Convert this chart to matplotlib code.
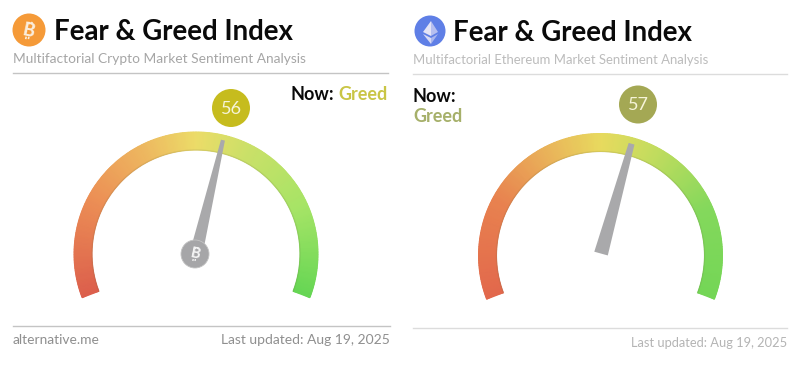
"""
Fear & Greed gauges, Bitcoin and Ethereum side by side
"""

import numpy as np
import matplotlib.pyplot as plt
from matplotlib.colors import LinearSegmentedColormap
from matplotlib.patches import Circle, Polygon

plt.rcParams["font.family"] = ["Lato", "DejaVu Sans"]

titles = ["Fear & Greed Index", "Fear & Greed Index"]
subtitles = [
    "Multifactorial Crypto Market Sentiment Analysis",
    "Multifactorial Ethereum Market Sentiment Analysis",
]
values = [56, 57]
statuses = ["Greed", "Greed"]
updated = ["Last updated: Aug 19, 2025", "Last updated: Aug 19, 2025"]
source = "alternative.me"

badge_colors = ["#c6bc1e", "#a4a854"]
status_colors = ["#c9c545", "#a6b06a"]
footer_colors = ["#8f8f8f", "#b4b4b4"]
rule_colors = ["#c4c4c4", "#dcdcdc"]
sub_colors = ["#a6a6a6", "#bcbcbc"]

gauge_stops = [
    [(0.0, "#dc5f4c"), (0.22, "#ec8f55"), (0.38, "#edb860"), (0.5, "#ecdc68"),
     (0.62, "#cbe068"), (0.8, "#a6e466"), (1.0, "#66d654")],
    [(0.0, "#e2684c"), (0.22, "#e8824f"), (0.38, "#e9b45a"), (0.5, "#e8da5e"),
     (0.62, "#c4dc5e"), (0.8, "#84d85c"), (1.0, "#74d656")],
]

# gauge geometry in image pixels
CENTERS = [(196, 254), (600.5, 255.5)]
R_OUT, R_IN = 122, 104
SWEEP = 222  # degrees, value 0 to 100


def angle_of(value):
    return 90 + SWEEP / 2 - value / 100 * SWEEP


def draw_gauge(ax, center, stops):
    cmap = LinearSegmentedColormap.from_list("gauge", stops)
    t = np.linspace(0, 1, 300)
    r = np.array([R_IN, R_OUT])
    a = np.radians(angle_of(t * 100))
    X = center[0] + np.outer(r, np.cos(a))
    Y = center[1] - np.outer(r, np.sin(a))
    ax.pcolormesh(X, Y, np.tile(t, (2, 1)), cmap=cmap, shading="gouraud", zorder=2)
    # soft rim on the inner side
    ax.plot(X[0], Y[0], color="#6a6a40", alpha=0.14, lw=1, zorder=3)


def draw_needle(ax, center, value, tip_r, base_w, tip_w, back=0):
    a = np.radians(angle_of(value))
    d = np.array([np.cos(a), -np.sin(a)])
    n = np.array([d[1], -d[0]])
    c = np.array(center) - d * back
    tip = np.array(center) + d * tip_r
    pts = [c + n * base_w / 2, tip + n * tip_w / 2, tip - n * tip_w / 2, c - n * base_w / 2]
    ax.add_patch(Polygon(pts, closed=True, fc="#a9a9ab", ec="none", zorder=5))


def draw_btc(ax, x, y, size, color, zorder):
    # no installed font has the bitcoin sign, so a B with the stem ticks
    ax.text(x, y, "B", fontsize=size, fontweight="black", color=color, ha="center",
            va="center", rotation=-12, zorder=zorder)
    h = size * 0.95
    slant = np.tan(np.radians(12))
    for off in (-0.12, 0.1):
        dx = off * h
        for sign in (-1, 1):
            y0, y1 = y + sign * h * 0.5, y + sign * h * 0.7
            ax.plot([x + dx - slant * (y0 - y), x + dx - slant * (y1 - y)], [y0, y1],
                    color=color, lw=size * 0.09, solid_capstyle="butt", zorder=zorder)


fig = plt.figure(figsize=(8, 3.75), dpi=100)
ax = fig.add_axes([0, 0, 1, 1])
ax.set_xlim(0, 800)
ax.set_ylim(375, 0)
ax.axis("off")

# header and footer, left panel at x=13, right panel at x=413
ax.text(54, 31.5, titles[0], fontsize=19.9, fontweight="bold", color="#0a0a0a", va="center")
ax.text(453, 33, titles[1], fontsize=19.9, fontweight="bold", color="#0a0a0a", va="center")
ax.text(13, 59, subtitles[0], fontsize=9.9, color=sub_colors[0], va="center")
ax.text(413, 59.5, subtitles[1], fontsize=9.46, color=sub_colors[1], va="center")
ax.plot([13, 388], [73, 73], color=rule_colors[0], lw=1)
ax.plot([413, 787], [74, 74], color=rule_colors[1], lw=1)
ax.plot([13, 390], [326, 326], color=rule_colors[0], lw=1)
ax.plot([413, 787], [328, 328], color=rule_colors[1], lw=1)
ax.text(13, 340, source, fontsize=9.9, color=footer_colors[0], va="center")
ax.text(390, 340, updated[0], fontsize=10, color=footer_colors[0], va="center", ha="right")
ax.text(787, 343, updated[1], fontsize=9.3, color=footer_colors[1], va="center", ha="right")

# status labels
ax.text(291, 95, "Now:", fontsize=13, fontweight="bold", color="#0a0a0a", va="center")
ax.text(388, 95, statuses[0], fontsize=13, fontweight="bold", color=status_colors[0],
        va="center", ha="right")
ax.text(413, 96, "Now:", fontsize=13, fontweight="bold", color="#0a0a0a", va="center")
ax.text(413, 117, statuses[1], fontsize=13, fontweight="bold", color=status_colors[1], va="center")

# value badges
for xy, rad, col, val in zip([(231, 108), (638, 104.5)], [19, 19], badge_colors, values):
    ax.add_patch(Circle(xy, rad, fc=col, ec="none", zorder=4))
    ax.text(xy[0], xy[1] + 0.5, str(val), fontsize=13, color="#f6f4d8", ha="center",
            va="center", zorder=5)

# gauges
draw_gauge(ax, CENTERS[0], gauge_stops[0])
draw_gauge(ax, CENTERS[1], gauge_stops[1])
draw_needle(ax, CENTERS[0], values[0], 117, 13, 4)
draw_needle(ax, CENTERS[1], values[1], 116, 14, 6, back=-2)

# hub on the bitcoin gauge
ax.add_patch(Circle((195, 254), 14, fc="#a6a6a8", ec="#c4c4c4", lw=0.6, zorder=6))
draw_btc(ax, 195.5, 254, 10.5, "#f4f4f4", 7)

# coin icons
ax.add_patch(Circle((29, 30), 16.5, fc="#f59a38", ec="none", zorder=3))
draw_btc(ax, 29, 30.5, 13, "#fbeede", 4)

ax.add_patch(Circle((430, 31), 15.5, fc="#5f7fe6", ec="none", zorder=3))
ax.add_patch(Polygon([(431, 21), (423, 32), (431, 36)], fc="#e4e4f6", ec="none", zorder=4))
ax.add_patch(Polygon([(431, 21), (438, 32), (431, 36)], fc="#b6bff0", ec="none", zorder=4))
ax.add_patch(Polygon([(423, 34), (431, 44), (431, 38)], fc="#d8daf4", ec="none", zorder=4))
ax.add_patch(Polygon([(438, 34), (431, 44), (431, 38)], fc="#aab6ee", ec="none", zorder=4))

fig.savefig("out.png", dpi=100)
